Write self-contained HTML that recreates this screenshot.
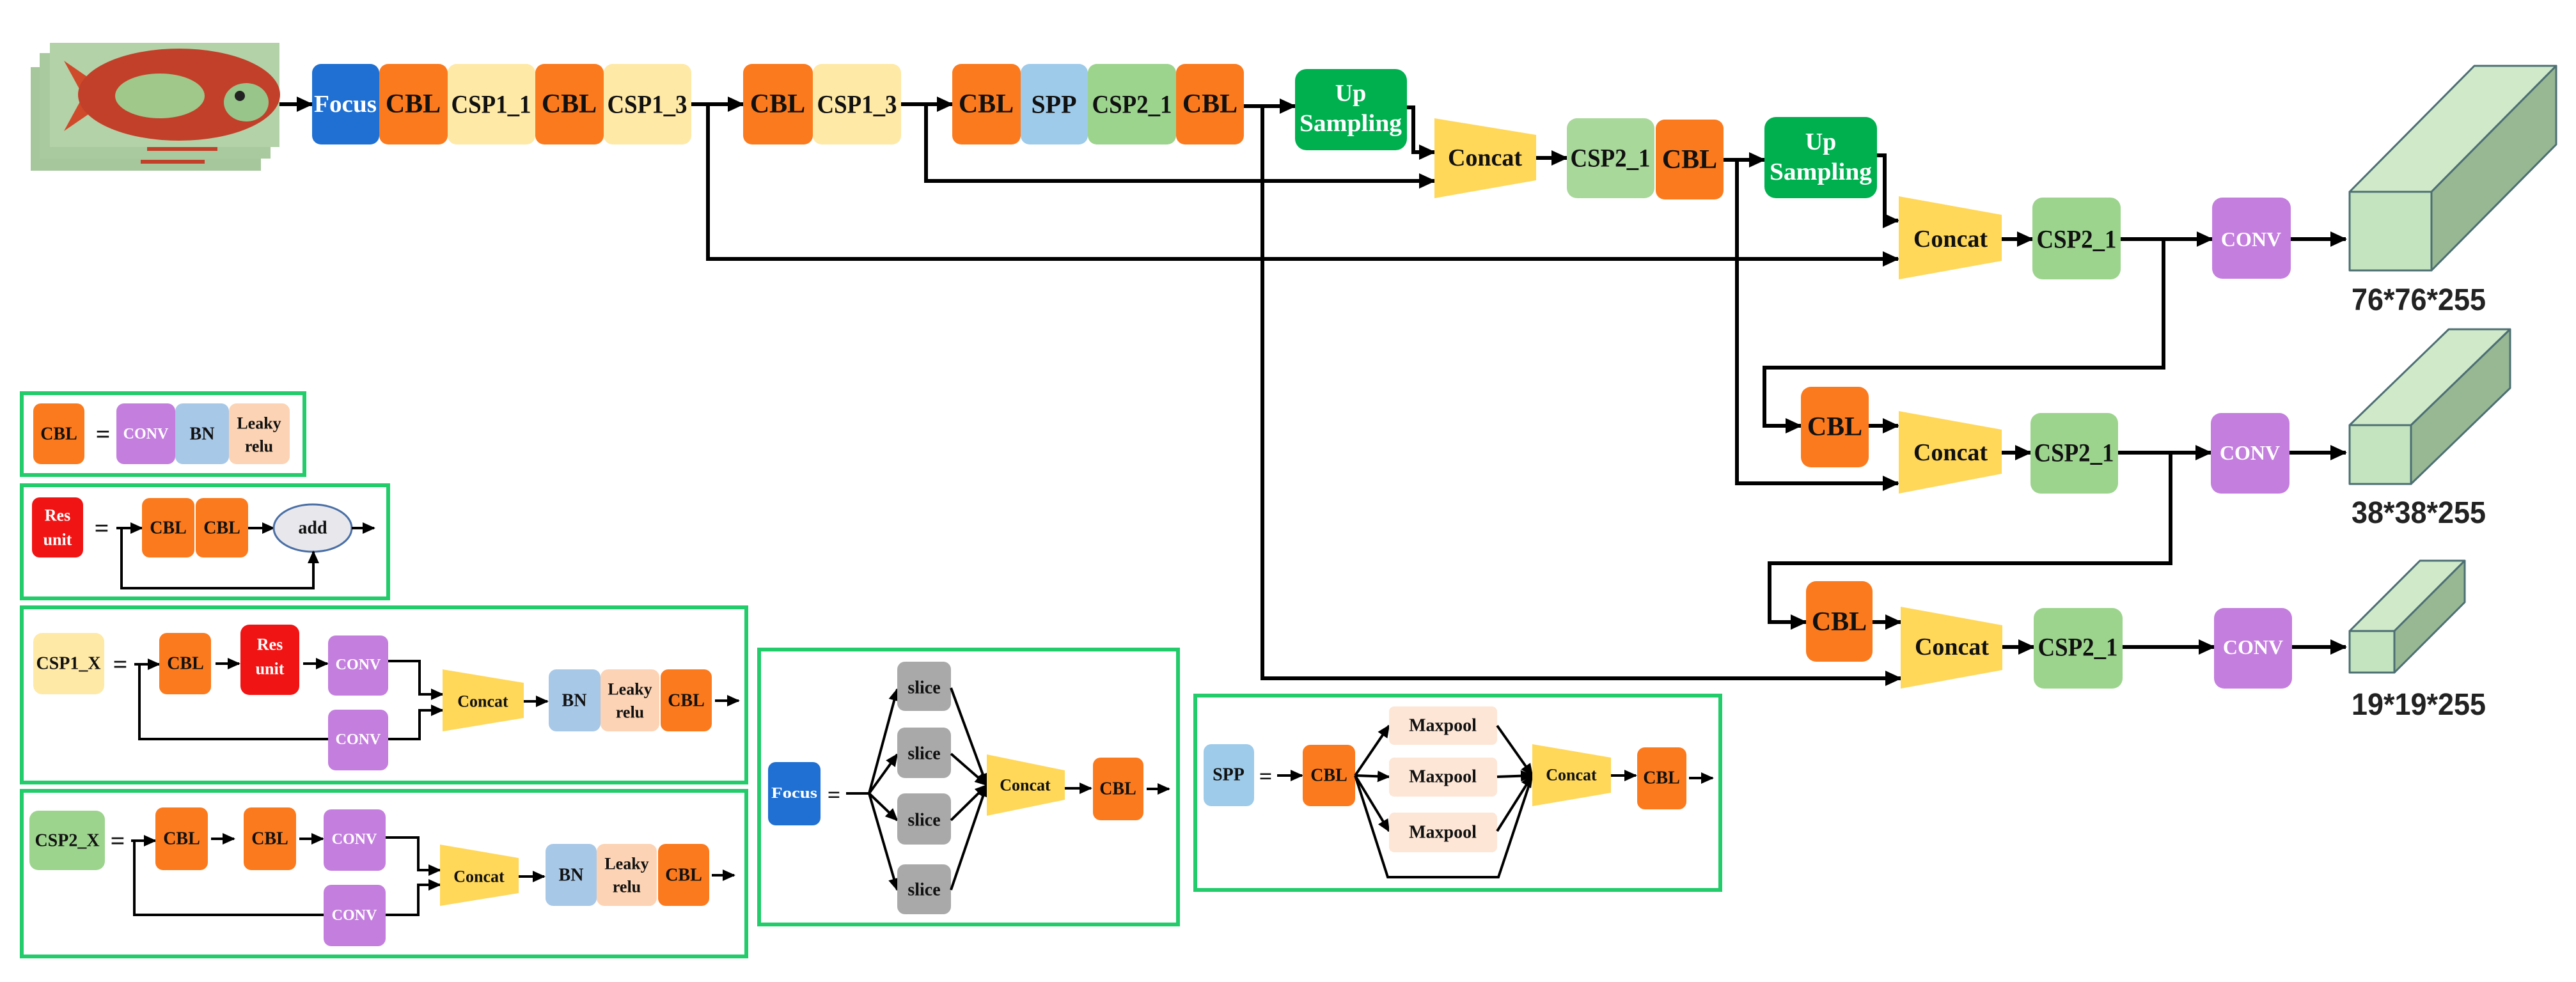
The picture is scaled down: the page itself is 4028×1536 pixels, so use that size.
<!DOCTYPE html>
<html><head><meta charset="utf-8"><style>
html,body{margin:0;padding:0;background:#fff;}
svg{display:block;}
.s{font-family:"Liberation Serif",serif;font-weight:bold;text-anchor:middle;dominant-baseline:central;fill:#111;}
.w{fill:#fff;}
.ln{stroke:#000;stroke-width:6;fill:none;}
.lg{stroke:#000;stroke-width:4;fill:none;}
.gb{fill:none;stroke:#22cc6a;stroke-width:6;}
</style></head><body>
<svg width="4028" height="1536" viewBox="0 0 4028 1536" xmlns="http://www.w3.org/2000/svg">
<defs>
<marker id="a" markerUnits="userSpaceOnUse" markerWidth="26" markerHeight="24" refX="24" refY="12" orient="auto"><path d="M0,0 L26,12 L0,24 Z" fill="#000"/></marker>
<marker id="b" markerUnits="userSpaceOnUse" markerWidth="20" markerHeight="18" refX="18" refY="9" orient="auto"><path d="M0,0 L20,9 L0,18 Z" fill="#000"/></marker>
</defs>

<!-- fish -->
<rect x="48" y="105" width="360" height="162" fill="#a6c79c"/>
<rect x="62" y="83" width="361" height="165" fill="#a9ca9f"/>
<rect x="78" y="67" width="359" height="163" fill="#b3d2a8"/>
<path d="M100,95 L180,150 L100,205 L130,150 Z" fill="#cf4a2a"/>
<ellipse cx="280" cy="148" rx="158" ry="72" fill="#c2402a"/>
<ellipse cx="250" cy="150" rx="70" ry="35" fill="#9fc88a"/>
<ellipse cx="385" cy="160" rx="35" ry="30" fill="#98c58a"/>
<circle cx="375" cy="150" r="8" fill="#222"/>
<rect x="230" y="230" width="110" height="6" fill="#c2402a"/>
<rect x="220" y="250" width="100" height="6" fill="#c2402a"/>

<!-- top row -->
<line class="ln" x1="437" y1="163" x2="488" y2="163" marker-end="url(#a)"/>
<rect x="488" y="100" width="105" height="126" rx="14" fill="#1f70d2"/>
<text class="s w" x="540" y="163" font-size="38" textLength="98" lengthAdjust="spacingAndGlyphs">Focus</text>
<rect x="593" y="100" width="107" height="126" rx="14" fill="#fb7a1e"/>
<text class="s" x="646" y="163" font-size="42">CBL</text>
<rect x="700" y="100" width="137" height="126" rx="14" fill="#ffe9a6"/>
<text class="s" x="768" y="163" font-size="40" textLength="125" lengthAdjust="spacingAndGlyphs">CSP1_1</text>
<rect x="837" y="100" width="107" height="126" rx="14" fill="#fb7a1e"/>
<text class="s" x="890" y="163" font-size="42">CBL</text>
<rect x="944" y="100" width="137" height="126" rx="14" fill="#ffe9a6"/>
<text class="s" x="1012" y="163" font-size="40" textLength="125" lengthAdjust="spacingAndGlyphs">CSP1_3</text>

<line class="ln" x1="1081" y1="163" x2="1162" y2="163" marker-end="url(#a)"/>
<rect x="1162" y="100" width="109" height="126" rx="14" fill="#fb7a1e"/>
<text class="s" x="1216" y="163" font-size="42">CBL</text>
<rect x="1271" y="100" width="138" height="126" rx="14" fill="#ffe9a6"/>
<text class="s" x="1340" y="163" font-size="40" textLength="125" lengthAdjust="spacingAndGlyphs">CSP1_3</text>

<line class="ln" x1="1409" y1="163" x2="1489" y2="163" marker-end="url(#a)"/>
<rect x="1489" y="100" width="107" height="126" rx="14" fill="#fb7a1e"/>
<text class="s" x="1542" y="163" font-size="42">CBL</text>
<rect x="1596" y="100" width="105" height="126" rx="14" fill="#9ecbea"/>
<text class="s" x="1648" y="163" font-size="40">SPP</text>
<rect x="1701" y="100" width="138" height="126" rx="14" fill="#9cd48e"/>
<text class="s" x="1770" y="163" font-size="40" textLength="125" lengthAdjust="spacingAndGlyphs">CSP2_1</text>
<rect x="1839" y="100" width="106" height="126" rx="14" fill="#fb7a1e"/>
<text class="s" x="1892" y="163" font-size="42">CBL</text>

<!-- long branches -->
<polyline class="ln" points="1107,163 1107,405 2968,405" marker-end="url(#a)"/>
<polyline class="ln" points="1448,163 1448,283 2243,283" marker-end="url(#a)"/>
<line class="ln" x1="1945" y1="166" x2="2025" y2="166" marker-end="url(#a)"/>
<polyline class="ln" points="1974,166 1974,1061 2972,1061" marker-end="url(#a)"/>

<!-- upsampling 1 -->
<rect x="2025" y="108" width="175" height="127" rx="18" fill="#00b04f"/>
<text class="s w" x="2112" y="146" font-size="38">Up</text>
<text class="s w" x="2112" y="193" font-size="38" textLength="160" lengthAdjust="spacingAndGlyphs">Sampling</text>
<polyline class="ln" points="2200,168 2210,168 2210,238 2243,238" marker-end="url(#a)"/>
<polygon points="2243,185 2402,211 2402,282 2243,310" fill="#ffd85a"/>
<text class="s" x="2322" y="247" font-size="38">Concat</text>
<line class="ln" x1="2402" y1="247" x2="2450" y2="247" marker-end="url(#a)"/>
<rect x="2450" y="185" width="137" height="125" rx="16" fill="#a8d89a"/>
<text class="s" x="2518" y="247" font-size="40" textLength="125" lengthAdjust="spacingAndGlyphs">CSP2_1</text>
<rect x="2589" y="187" width="106" height="125" rx="14" fill="#fb7a1e"/>
<text class="s" x="2642" y="250" font-size="42">CBL</text>
<line class="ln" x1="2695" y1="250" x2="2759" y2="250" marker-end="url(#a)"/>
<polyline class="ln" points="2716,250 2716,756 2968,756" marker-end="url(#a)"/>

<!-- upsampling 2 -->
<rect x="2759" y="183" width="176" height="127" rx="18" fill="#00b04f"/>
<text class="s w" x="2847" y="222" font-size="38">Up</text>
<text class="s w" x="2847" y="269" font-size="38" textLength="160" lengthAdjust="spacingAndGlyphs">Sampling</text>
<polyline class="ln" points="2935,243 2947,243 2947,345 2968,345" marker-end="url(#a)"/>

<!-- row 1 output -->
<polygon points="2969,307 3130,336 3130,408 2969,437" fill="#ffd85a"/>
<text class="s" x="3050" y="374" font-size="38">Concat</text>
<line class="ln" x1="3130" y1="374" x2="3178" y2="374" marker-end="url(#a)"/>
<rect x="3178" y="309" width="138" height="128" rx="16" fill="#9cd48e"/>
<text class="s" x="3247" y="374" font-size="40" textLength="125" lengthAdjust="spacingAndGlyphs">CSP2_1</text>
<line class="ln" x1="3316" y1="374" x2="3459" y2="374" marker-end="url(#a)"/>
<polyline class="ln" points="3383,374 3383,575 2759,575 2759,666 2816,666" marker-end="url(#a)"/>
<rect x="3459" y="309" width="123" height="127" rx="16" fill="#c47fde"/>
<text class="s w" x="3520" y="374" font-size="32">CONV</text>
<line class="ln" x1="3582" y1="374" x2="3668" y2="374" marker-end="url(#a)"/>

<!-- row 2 -->
<rect x="2816" y="605" width="106" height="126" rx="16" fill="#fb7a1e"/>
<text class="s" x="2869" y="668" font-size="42">CBL</text>
<line class="ln" x1="2922" y1="666" x2="2968" y2="666" marker-end="url(#a)"/>
<polygon points="2969,643 3130,672 3130,741 2969,772" fill="#ffd85a"/>
<text class="s" x="3050" y="708" font-size="38">Concat</text>
<line class="ln" x1="3130" y1="708" x2="3175" y2="708" marker-end="url(#a)"/>
<rect x="3175" y="646" width="137" height="126" rx="16" fill="#9cd48e"/>
<text class="s" x="3243" y="708" font-size="40" textLength="125" lengthAdjust="spacingAndGlyphs">CSP2_1</text>
<line class="ln" x1="3312" y1="708" x2="3457" y2="708" marker-end="url(#a)"/>
<polyline class="ln" points="3394,708 3394,881 2767,881 2767,973 2824,973" marker-end="url(#a)"/>
<rect x="3457" y="646" width="123" height="126" rx="16" fill="#c47fde"/>
<text class="s w" x="3518" y="708" font-size="32">CONV</text>
<line class="ln" x1="3580" y1="708" x2="3668" y2="708" marker-end="url(#a)"/>

<!-- row 3 -->
<rect x="2824" y="909" width="104" height="126" rx="16" fill="#fb7a1e"/>
<text class="s" x="2876" y="973" font-size="42">CBL</text>
<line class="ln" x1="2928" y1="973" x2="2972" y2="973" marker-end="url(#a)"/>
<polygon points="2972,949 3131,978 3131,1048 2972,1077" fill="#ffd85a"/>
<text class="s" x="3052" y="1012" font-size="38">Concat</text>
<line class="ln" x1="3131" y1="1012" x2="3180" y2="1012" marker-end="url(#a)"/>
<rect x="3180" y="951" width="139" height="126" rx="16" fill="#9cd48e"/>
<text class="s" x="3249" y="1012" font-size="40" textLength="125" lengthAdjust="spacingAndGlyphs">CSP2_1</text>
<line class="ln" x1="3319" y1="1012" x2="3462" y2="1012" marker-end="url(#a)"/>
<rect x="3462" y="951" width="122" height="126" rx="16" fill="#c47fde"/>
<text class="s w" x="3523" y="1012" font-size="32">CONV</text>
<line class="ln" x1="3584" y1="1012" x2="3668" y2="1012" marker-end="url(#a)"/>

<!-- cubes -->
<g stroke="#4d6f73" stroke-width="3" stroke-linejoin="round">
<polygon points="3674,300 3802,300 3997,103 3869,103" fill="#cfe9c9"/>
<polygon points="3802,300 3802,423 3997,226 3997,103" fill="#97b893"/>
<rect x="3674" y="300" width="128" height="123" fill="#c3e4bf"/>
<polygon points="3674,665 3770,665 3925,515 3829,515" fill="#cfe9c9"/>
<polygon points="3770,665 3770,757 3925,607 3925,515" fill="#97b893"/>
<rect x="3674" y="665" width="96" height="92" fill="#c3e4bf"/>
<polygon points="3674,987 3744,987 3854,877 3784,877" fill="#cfe9c9"/>
<polygon points="3744,987 3744,1052 3854,942 3854,877" fill="#97b893"/>
<rect x="3674" y="987" width="70" height="65" fill="#c3e4bf"/>
</g>
<g font-family="Liberation Sans, sans-serif" font-size="48" font-weight="bold" fill="#222">
<text x="3677" y="485" textLength="210" lengthAdjust="spacingAndGlyphs">76*76*255</text>
<text x="3677" y="818" textLength="210" lengthAdjust="spacingAndGlyphs">38*38*255</text>
<text x="3677" y="1118" textLength="210" lengthAdjust="spacingAndGlyphs">19*19*255</text>
</g>

<!-- legend 1: CBL -->
<rect class="gb" x="34" y="615" width="442" height="128"/>
<rect x="52" y="631" width="80" height="95" rx="12" fill="#fb7a1e"/>
<text class="s" x="92" y="679" font-size="28">CBL</text>
<text class="s" x="161" y="679" font-size="40" fill="#666">=</text>
<rect x="182" y="631" width="92" height="95" rx="12" fill="#c47fde"/>
<text class="s w" x="228" y="679" font-size="24">CONV</text>
<rect x="274" y="631" width="84" height="95" rx="12" fill="#a8c8e8"/>
<text class="s" x="316" y="679" font-size="28">BN</text>
<rect x="358" y="631" width="95" height="95" rx="12" fill="#fcd3b4"/>
<text class="s" x="405" y="662" font-size="26">Leaky</text>
<text class="s" x="405" y="698" font-size="26">relu</text>

<!-- legend 2: Res unit -->
<rect class="gb" x="34" y="759" width="573" height="177"/>
<rect x="50" y="778" width="80" height="94" rx="12" fill="#f01414"/>
<text class="s w" x="90" y="806" font-size="26">Res</text>
<text class="s w" x="90" y="844" font-size="26">unit</text>
<text class="s" x="159" y="826" font-size="40" fill="#666">=</text>
<line class="lg" x1="182" y1="826" x2="222" y2="826" marker-end="url(#b)"/>
<rect x="222" y="779" width="82" height="93" rx="12" fill="#fb7a1e"/>
<text class="s" x="263" y="826" font-size="28">CBL</text>
<rect x="306" y="779" width="82" height="93" rx="12" fill="#fb7a1e"/>
<text class="s" x="347" y="826" font-size="28">CBL</text>
<line class="lg" x1="388" y1="826" x2="428" y2="826" marker-end="url(#b)"/>
<ellipse cx="489" cy="826" rx="61" ry="37" fill="#e8e8ec" stroke="#4a6fa5" stroke-width="3"/>
<text class="s" x="489" y="826" font-size="28" font-weight="normal">add</text>
<line class="lg" x1="550" y1="826" x2="585" y2="826" marker-end="url(#b)"/>
<polyline class="lg" points="190,826 190,920 490,920 490,863" marker-end="url(#b)"/>

<!-- legend 3: CSP1_X -->
<rect class="gb" x="34" y="950" width="1133" height="274"/>
<rect x="52" y="990" width="111" height="96" rx="14" fill="#ffe9a6"/>
<text class="s" x="107" y="1038" font-size="28">CSP1_X</text>
<text class="s" x="188" y="1039" font-size="40" fill="#666">=</text>
<line class="lg" x1="210" y1="1039" x2="249" y2="1039" marker-end="url(#b)"/>
<polyline class="lg" points="218,1039 218,1156 656,1156 656,1111 692,1111" marker-end="url(#b)"/>
<rect x="249" y="990" width="81" height="96" rx="12" fill="#fb7a1e"/>
<text class="s" x="290" y="1038" font-size="28">CBL</text>
<line class="lg" x1="337" y1="1038" x2="374" y2="1038" marker-end="url(#b)"/>
<rect x="376" y="977" width="92" height="110" rx="14" fill="#f01414"/>
<text class="s w" x="422" y="1008" font-size="26">Res</text>
<text class="s w" x="422" y="1046" font-size="26">unit</text>
<line class="lg" x1="474" y1="1038" x2="512" y2="1038" marker-end="url(#b)"/>
<rect x="513" y="994" width="94" height="94" rx="12" fill="#c47fde"/>
<text class="s w" x="560" y="1040" font-size="24">CONV</text>
<polyline class="lg" points="607,1034 656,1034 656,1086 692,1086" marker-end="url(#b)"/>
<rect x="513" y="1110" width="94" height="95" rx="12" fill="#c47fde"/>
<text class="s w" x="560" y="1157" font-size="24">CONV</text>
<polygon points="692,1047 819,1068 819,1123 692,1144" fill="#ffd85a"/>
<text class="s" x="755" y="1097" font-size="26">Concat</text>
<line class="lg" x1="819" y1="1097" x2="856" y2="1097" marker-end="url(#b)"/>
<rect x="858" y="1047" width="81" height="97" rx="12" fill="#a8c8e8"/>
<text class="s" x="898" y="1096" font-size="28">BN</text>
<rect x="939" y="1047" width="92" height="97" rx="12" fill="#fcd3b4"/>
<text class="s" x="985" y="1078" font-size="26">Leaky</text>
<text class="s" x="985" y="1114" font-size="26">relu</text>
<rect x="1033" y="1047" width="80" height="97" rx="12" fill="#fb7a1e"/>
<text class="s" x="1073" y="1096" font-size="28">CBL</text>
<line class="lg" x1="1118" y1="1096" x2="1155" y2="1096" marker-end="url(#b)"/>

<!-- legend 4: CSP2_X -->
<rect class="gb" x="34" y="1237" width="1133" height="259"/>
<rect x="46" y="1268" width="118" height="93" rx="14" fill="#9cd48e"/>
<text class="s" x="105" y="1315" font-size="28">CSP2_X</text>
<text class="s" x="184" y="1315" font-size="40" fill="#666">=</text>
<line class="lg" x1="205" y1="1315" x2="243" y2="1315" marker-end="url(#b)"/>
<polyline class="lg" points="210,1315 210,1431 654,1431 654,1384 688,1384" marker-end="url(#b)"/>
<rect x="243" y="1263" width="82" height="98" rx="12" fill="#fb7a1e"/>
<text class="s" x="284" y="1312" font-size="28">CBL</text>
<line class="lg" x1="330" y1="1312" x2="366" y2="1312" marker-end="url(#b)"/>
<rect x="381" y="1263" width="82" height="98" rx="12" fill="#fb7a1e"/>
<text class="s" x="422" y="1312" font-size="28">CBL</text>
<line class="lg" x1="468" y1="1312" x2="505" y2="1312" marker-end="url(#b)"/>
<rect x="506" y="1266" width="97" height="96" rx="12" fill="#c47fde"/>
<text class="s w" x="554" y="1313" font-size="24">CONV</text>
<polyline class="lg" points="603,1310 654,1310 654,1361 688,1361" marker-end="url(#b)"/>
<rect x="506" y="1384" width="97" height="96" rx="12" fill="#c47fde"/>
<text class="s w" x="554" y="1432" font-size="24">CONV</text>
<polygon points="688,1321 811,1342 811,1397 688,1417" fill="#ffd85a"/>
<text class="s" x="749" y="1371" font-size="26">Concat</text>
<line class="lg" x1="811" y1="1371" x2="851" y2="1371" marker-end="url(#b)"/>
<rect x="853" y="1320" width="80" height="97" rx="12" fill="#a8c8e8"/>
<text class="s" x="893" y="1369" font-size="28">BN</text>
<rect x="933" y="1320" width="94" height="97" rx="12" fill="#fcd3b4"/>
<text class="s" x="980" y="1351" font-size="26">Leaky</text>
<text class="s" x="980" y="1387" font-size="26">relu</text>
<rect x="1029" y="1320" width="80" height="97" rx="12" fill="#fb7a1e"/>
<text class="s" x="1069" y="1369" font-size="28">CBL</text>
<line class="lg" x1="1113" y1="1369" x2="1148" y2="1369" marker-end="url(#b)"/>

<!-- Focus legend -->
<rect class="gb" x="1187" y="1016" width="655" height="430"/>
<rect x="1201" y="1192" width="82" height="99" rx="12" fill="#1f70d2"/>
<text class="s w" x="1242" y="1241" font-size="24" textLength="72" lengthAdjust="spacingAndGlyphs">Focus</text>
<text class="s" x="1304" y="1243" font-size="36" fill="#666">=</text>
<line class="lg" x1="1323" y1="1241" x2="1359" y2="1241"/>
<line class="lg" x1="1359" y1="1241" x2="1403" y2="1078" marker-end="url(#b)"/>
<line class="lg" x1="1359" y1="1241" x2="1403" y2="1180" marker-end="url(#b)"/>
<line class="lg" x1="1359" y1="1241" x2="1403" y2="1283" marker-end="url(#b)"/>
<line class="lg" x1="1359" y1="1241" x2="1403" y2="1392" marker-end="url(#b)"/>
<g fill="#a9a9a9">
<rect x="1403" y="1035" width="84" height="77" rx="12"/>
<rect x="1403" y="1138" width="84" height="79" rx="12"/>
<rect x="1403" y="1241" width="84" height="80" rx="12"/>
<rect x="1403" y="1352" width="84" height="78" rx="12"/>
</g>
<text class="s" x="1445" y="1076" font-size="28">slice</text>
<text class="s" x="1445" y="1179" font-size="28">slice</text>
<text class="s" x="1445" y="1283" font-size="28">slice</text>
<text class="s" x="1445" y="1392" font-size="28">slice</text>
<line class="lg" x1="1487" y1="1076" x2="1543" y2="1228" marker-end="url(#b)"/>
<line class="lg" x1="1487" y1="1179" x2="1543" y2="1228" marker-end="url(#b)"/>
<line class="lg" x1="1487" y1="1283" x2="1543" y2="1228" marker-end="url(#b)"/>
<line class="lg" x1="1487" y1="1392" x2="1543" y2="1228" marker-end="url(#b)"/>
<polygon points="1543,1180 1665,1205 1665,1251 1543,1276" fill="#ffd85a"/>
<text class="s" x="1603" y="1228" font-size="26">Concat</text>
<line class="lg" x1="1665" y1="1233" x2="1706" y2="1233" marker-end="url(#b)"/>
<rect x="1709" y="1185" width="79" height="98" rx="12" fill="#fb7a1e"/>
<text class="s" x="1748" y="1234" font-size="28">CBL</text>
<line class="lg" x1="1793" y1="1234" x2="1828" y2="1234" marker-end="url(#b)"/>

<!-- SPP legend -->
<rect class="gb" x="1869" y="1088" width="821" height="304"/>
<rect x="1882" y="1164" width="79" height="97" rx="12" fill="#9ecbea"/>
<text class="s" x="1921" y="1212" font-size="28">SPP</text>
<text class="s" x="1979" y="1214" font-size="36" fill="#666">=</text>
<line class="lg" x1="1997" y1="1213" x2="2036" y2="1213" marker-end="url(#b)"/>
<rect x="2037" y="1165" width="82" height="96" rx="12" fill="#fb7a1e"/>
<text class="s" x="2078" y="1213" font-size="28">CBL</text>
<line class="lg" x1="2119" y1="1213" x2="2172" y2="1135" marker-end="url(#b)"/>
<line class="lg" x1="2119" y1="1213" x2="2172" y2="1215" marker-end="url(#b)"/>
<line class="lg" x1="2119" y1="1213" x2="2172" y2="1300" marker-end="url(#b)"/>
<polyline class="lg" points="2119,1213 2170,1372 2343,1372 2396,1213"/>
<g fill="#fde6d6">
<rect x="2172" y="1105" width="169" height="60" rx="8"/>
<rect x="2172" y="1185" width="169" height="61" rx="8"/>
<rect x="2172" y="1271" width="169" height="62" rx="8"/>
</g>
<text class="s" x="2256" y="1135" font-size="28">Maxpool</text>
<text class="s" x="2256" y="1215" font-size="28">Maxpool</text>
<text class="s" x="2256" y="1302" font-size="28">Maxpool</text>
<line class="lg" x1="2341" y1="1135" x2="2396" y2="1213" marker-end="url(#b)"/>
<line class="lg" x1="2341" y1="1215" x2="2396" y2="1213" marker-end="url(#b)"/>
<line class="lg" x1="2341" y1="1300" x2="2396" y2="1213" marker-end="url(#b)"/>
<polygon points="2396,1164 2519,1185 2519,1240 2396,1261" fill="#ffd85a"/>
<text class="s" x="2457" y="1212" font-size="26">Concat</text>
<line class="lg" x1="2519" y1="1213" x2="2558" y2="1213" marker-end="url(#b)"/>
<rect x="2560" y="1169" width="77" height="97" rx="12" fill="#fb7a1e"/>
<text class="s" x="2598" y="1217" font-size="28">CBL</text>
<line class="lg" x1="2641" y1="1217" x2="2678" y2="1217" marker-end="url(#b)"/>
</svg>
</body></html>
